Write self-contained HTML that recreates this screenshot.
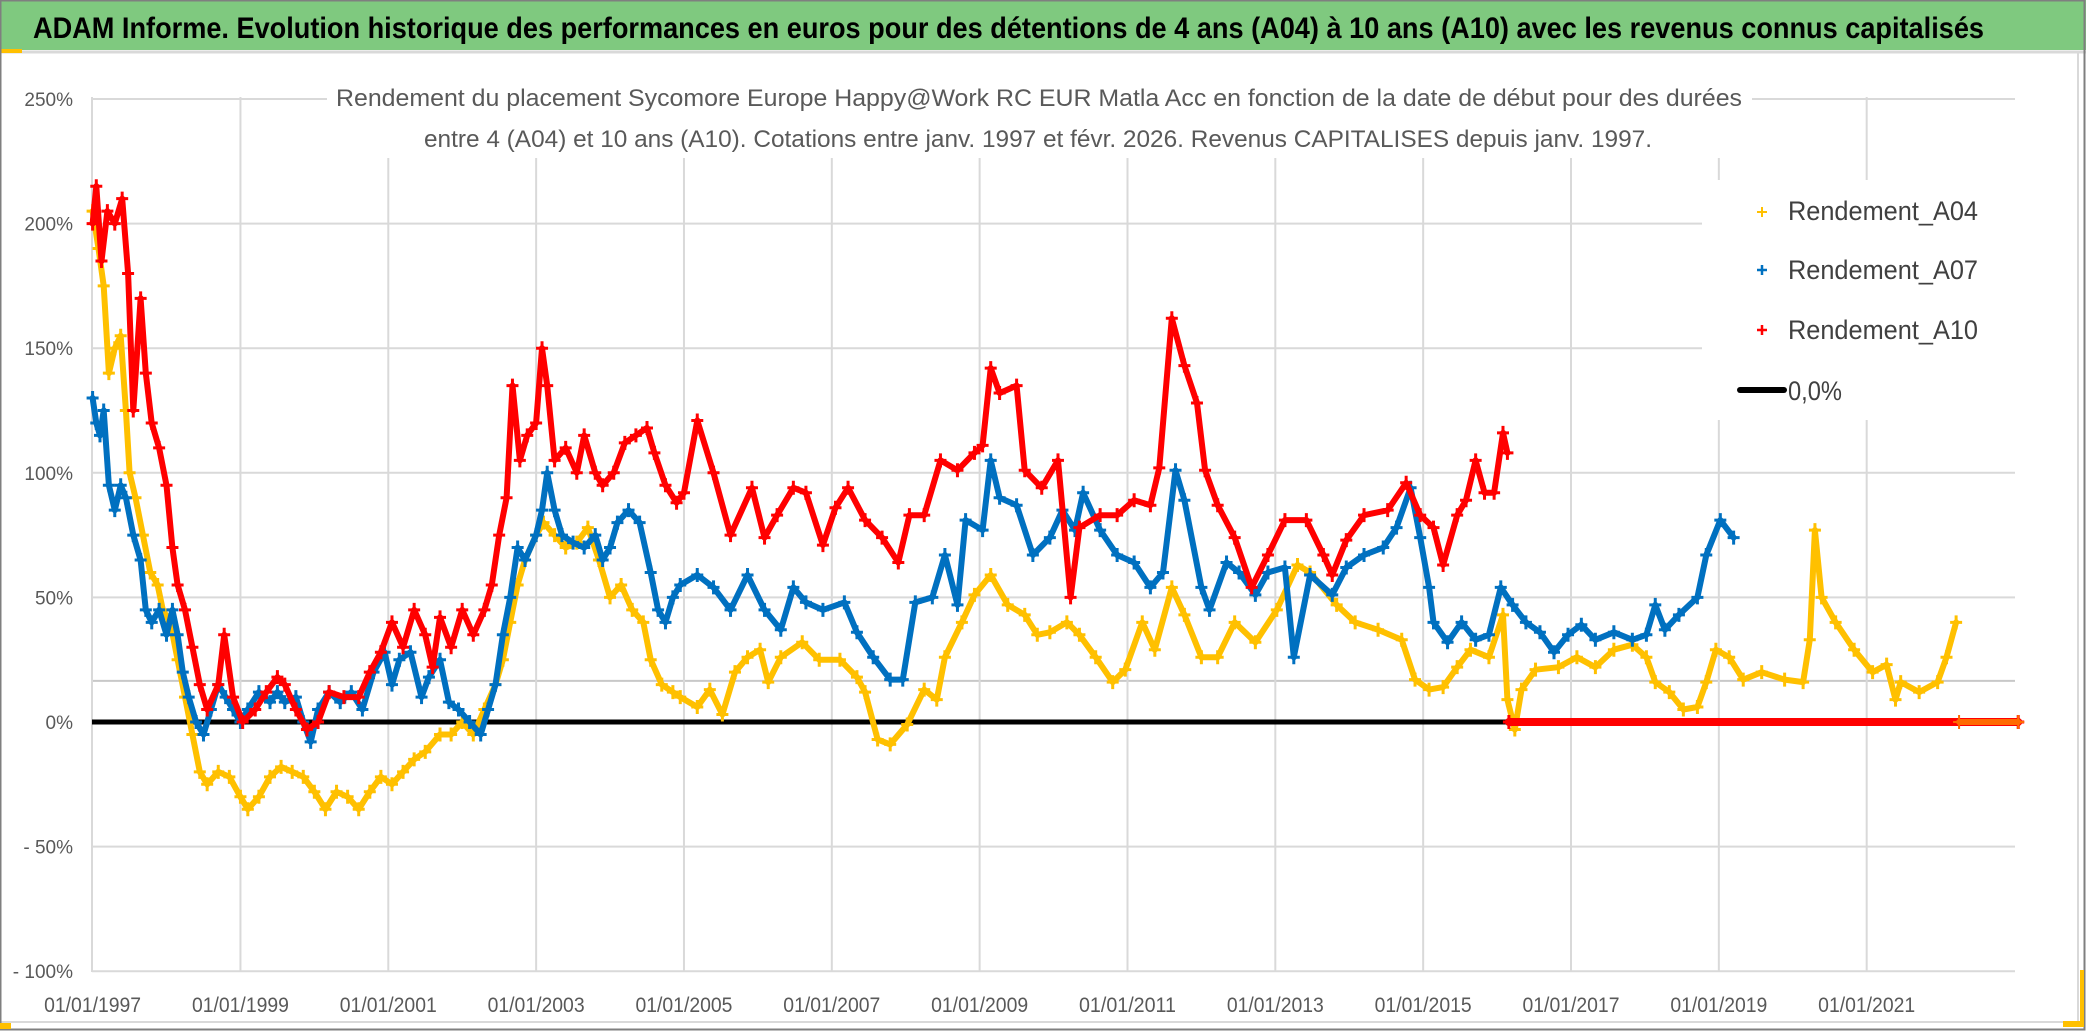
<!DOCTYPE html>
<html><head><meta charset="utf-8">
<style>
html,body{margin:0;padding:0;background:#fff;}
svg{display:block;font-family:"Liberation Sans",sans-serif;}
</style></head>
<body>
<svg id="chart" width="2086" height="1031" viewBox="0 0 2086 1031" xmlns="http://www.w3.org/2000/svg">
  <rect x="0" y="0" width="2086" height="1031" fill="#fff"/>
  <rect x="0" y="0" width="2086" height="50" fill="#7fc97f"/>
  <line x1="0" y1="52" x2="2086" y2="52" stroke="#d9d9d9" stroke-width="3"/>
  <rect x="0" y="49" width="22" height="4" fill="#ffc000"/>
  <text x="33" y="38" font-size="30" font-weight="bold" fill="#000" textLength="1951" lengthAdjust="spacingAndGlyphs">ADAM Informe. Evolution historique des performances en euros pour des détentions de 4 ans (A04) à 10 ans (A10) avec les revenus connus capitalisés</text>
  <line x1="2078" y1="53" x2="2078" y2="1022" stroke="#d9d9d9" stroke-width="2"/>
  <line x1="0" y1="1022" x2="2078" y2="1022" stroke="#d9d9d9" stroke-width="2"/>
  <rect x="0.5" y="0.5" width="2084" height="1029" fill="none" stroke="#7f7f7f" stroke-width="2"/>
  <rect x="2063" y="1021" width="18" height="6" fill="#ffc000"/>
  <rect x="2080" y="970" width="4" height="57" fill="#ffc000"/>
  <rect x="0" y="1023" width="11" height="6" fill="#ffc000"/>
  <g id="grid"></g>
  <g id="axes"></g>
  <g id="series"></g>
  <rect x="327" y="70" width="1425" height="88" fill="#fff"/>
  <text x="336" y="106" font-size="24" fill="#595959" textLength="1406" lengthAdjust="spacingAndGlyphs">Rendement du placement Sycomore Europe Happy@Work RC EUR Matla Acc en fonction de la date de début pour des durées</text>
  <text x="424" y="147" font-size="24" fill="#595959" textLength="1228" lengthAdjust="spacingAndGlyphs">entre 4 (A04) et 10 ans (A10). Cotations entre janv. 1997 et févr. 2026. Revenus CAPITALISES depuis janv. 1997.</text>
  <g>
    <rect x="1702" y="180" width="314" height="240" fill="#fff"/>
    <g>
      <path d="M1757 212h10M1762 207v10" stroke="#ffc000" stroke-width="2"/>
      <text x="1788" y="220" font-size="27" fill="#404040" textLength="190" lengthAdjust="spacingAndGlyphs">Rendement_A04</text>
    </g>
    <g>
      <path d="M1757 270h10M1762 265v10" stroke="#0070c0" stroke-width="2.5"/>
      <text x="1788" y="279" font-size="27" fill="#404040" textLength="190" lengthAdjust="spacingAndGlyphs">Rendement_A07</text>
    </g>
    <g>
      <path d="M1757 330h10M1762 325v10" stroke="#ff0000" stroke-width="2.5"/>
      <text x="1788" y="339" font-size="27" fill="#404040" textLength="190" lengthAdjust="spacingAndGlyphs">Rendement_A10</text>
    </g>
    <g>
      <line x1="1740" y1="390" x2="1784" y2="390" stroke="#000" stroke-width="6" stroke-linecap="round"/>
      <text x="1788" y="400" font-size="27" fill="#404040" textLength="54" lengthAdjust="spacingAndGlyphs">0,0%</text>
    </g>
  </g>
</svg>
<script>
const yTickValues = [250, 200, 150, 100, 50, 0, -50, -100];
const yTickLabels = ["250%", "200%", "150%", "100%", "50%", "0%", "- 50%", "- 100%"];
const xTickYears = [1997, 1999, 2001, 2003, 2005, 2007, 2009, 2011, 2013, 2015, 2017, 2019, 2021];
const xTickLabels = ["01/01/1997","01/01/1999","01/01/2001","01/01/2003","01/01/2005","01/01/2007","01/01/2009","01/01/2011","01/01/2013","01/01/2015","01/01/2017","01/01/2019","01/01/2021"];
const refLineValue = 16.5;

const a04Dates = [1997.0,1997.08,1997.15,1997.22,1997.3,1997.38,1997.45,1997.5,1997.58,1997.68,1997.78,1997.88,1997.95,1998.05,1998.15,1998.25,1998.35,1998.45,1998.55,1998.7,1998.85,1999.0,1999.1,1999.25,1999.4,1999.55,1999.7,1999.85,2000.0,2000.15,2000.3,2000.45,2000.6,2000.75,2000.9,2001.05,2001.2,2001.35,2001.5,2001.7,2001.85,2002.0,2002.15,2002.3,2002.45,2002.55,2002.65,2002.75,2002.85,2003.0,2003.1,2003.25,2003.4,2003.55,2003.7,2003.85,2004.0,2004.15,2004.3,2004.45,2004.55,2004.7,2004.85,2004.95,2005.18,2005.35,2005.52,2005.69,2005.86,2006.03,2006.14,2006.31,2006.6,2006.83,2007.11,2007.34,2007.45,2007.62,2007.79,2008.02,2008.25,2008.42,2008.53,2008.76,2008.93,2009.15,2009.38,2009.61,2009.78,2009.95,2010.18,2010.35,2010.57,2010.8,2010.97,2011.2,2011.37,2011.6,2011.77,2012.0,2012.22,2012.45,2012.73,2013.02,2013.3,2013.47,2013.83,2014.08,2014.39,2014.71,2014.89,2015.08,2015.27,2015.46,2015.64,2015.89,2016.08,2016.14,2016.24,2016.33,2016.52,2016.83,2017.08,2017.33,2017.58,2017.83,2018.02,2018.14,2018.33,2018.52,2018.71,2018.83,2018.96,2019.14,2019.33,2019.58,2019.89,2020.14,2020.23,2020.3,2020.39,2020.58,2020.83,2021.08,2021.27,2021.39,2021.46,2021.71,2021.96,2022.08,2022.21];
const a04Values = [205,190,175,140,150,155,125,100,90,75,60,55,45,40,25,10,-5,-20,-25,-20,-22,-30,-35,-30,-22,-18,-20,-22,-28,-35,-28,-30,-35,-28,-22,-25,-20,-15,-12,-5,-5,0,-5,5,15,25,40,55,65,75,80,75,70,72,78,65,50,55,45,40,25,15,12,10,6,13,3,20,26,29,16,26,32,25,25,18,12,-7,-9,-1,13,9,26,40,51,59,47,43,35,36,40,35,26,16,21,40,29,54,43,26,26,40,32,45,63,60,47,40,37,33,17,13,14,22,29,26,43,9,-3,13,21,22,26,22,29,31,26,16,12,5,6,16,29,26,17,20,17,16,33,77,50,40,29,20,23,9,16,12,16,26,40];
const a04ZeroDates = [2022.25, 2023.05];
const a04ZeroValues = [0, 0];

const a07Dates = [1997.0,1997.05,1997.1,1997.15,1997.22,1997.3,1997.38,1997.45,1997.55,1997.65,1997.72,1997.8,1997.9,1998.0,1998.08,1998.15,1998.22,1998.3,1998.4,1998.5,1998.6,1998.7,1998.8,1998.9,1999.0,1999.1,1999.25,1999.4,1999.5,1999.6,1999.75,1999.85,1999.95,2000.05,2000.2,2000.35,2000.5,2000.65,2000.8,2000.95,2001.05,2001.15,2001.3,2001.45,2001.55,2001.7,2001.82,2001.95,2002.1,2002.25,2002.35,2002.45,2002.55,2002.65,2002.75,2002.85,2003.0,2003.08,2003.15,2003.25,2003.35,2003.5,2003.65,2003.8,2003.9,2004.0,2004.1,2004.25,2004.4,2004.55,2004.65,2004.75,2004.85,2004.95,2005.18,2005.4,2005.63,2005.86,2006.09,2006.31,2006.48,2006.65,2006.88,2007.17,2007.34,2007.56,2007.79,2007.96,2008.13,2008.36,2008.53,2008.7,2008.81,2009.04,2009.15,2009.27,2009.5,2009.72,2009.95,2010.12,2010.29,2010.4,2010.63,2010.86,2011.09,2011.31,2011.48,2011.65,2011.77,2012.0,2012.11,2012.34,2012.51,2012.73,2012.9,2013.13,2013.25,2013.47,2013.77,2013.96,2014.2,2014.46,2014.64,2014.83,2014.96,2015.08,2015.14,2015.33,2015.52,2015.71,2015.89,2016.05,2016.21,2016.39,2016.58,2016.77,2016.96,2017.14,2017.33,2017.58,2017.83,2018.02,2018.14,2018.27,2018.46,2018.71,2018.83,2019.02,2019.2];
const a07Values = [130,120,115,125,95,85,95,90,75,65,45,40,45,35,45,35,20,10,0,-5,5,15,10,5,0,5,12,8,12,8,10,0,-8,5,12,8,12,5,20,28,15,25,28,10,18,25,8,5,0,-5,5,15,35,50,70,65,75,85,100,85,75,72,70,75,65,70,80,85,80,60,45,40,50,55,59,54,45,59,45,37,54,48,45,48,36,26,17,17,48,50,67,47,81,77,105,90,87,67,74,85,77,92,77,67,64,54,60,101,89,54,45,64,60,51,60,62,26,59,51,62,67,70,78,94,74,54,40,32,40,33,35,54,47,40,36,28,35,39,33,36,33,35,47,37,43,50,67,81,74];

const a10Dates = [1997.0,1997.05,1997.12,1997.2,1997.3,1997.4,1997.48,1997.55,1997.65,1997.72,1997.8,1997.9,1998.0,1998.08,1998.15,1998.25,1998.35,1998.45,1998.55,1998.7,1998.78,1998.9,1999.03,1999.2,1999.35,1999.5,1999.6,1999.75,1999.9,2000.05,2000.2,2000.4,2000.6,2000.75,2000.9,2001.05,2001.2,2001.35,2001.5,2001.6,2001.7,2001.85,2002.0,2002.15,2002.3,2002.4,2002.5,2002.6,2002.68,2002.78,2002.88,2003.0,2003.08,2003.15,2003.25,2003.4,2003.55,2003.65,2003.8,2003.9,2004.05,2004.2,2004.35,2004.5,2004.6,2004.75,2004.9,2005.0,2005.18,2005.4,2005.63,2005.92,2006.09,2006.26,2006.48,2006.65,2006.88,2007.05,2007.22,2007.45,2007.68,2007.9,2008.05,2008.25,2008.47,2008.7,2008.93,2009.04,2009.15,2009.27,2009.5,2009.61,2009.84,2010.06,2010.23,2010.35,2010.63,2010.86,2011.09,2011.31,2011.43,2011.6,2011.77,2011.94,2012.05,2012.22,2012.45,2012.68,2012.9,2013.13,2013.42,2013.65,2013.77,2013.96,2014.2,2014.52,2014.77,2014.96,2015.14,2015.27,2015.46,2015.58,2015.71,2015.83,2015.96,2016.08,2016.14];
const a10Values = [200,215,185,205,200,210,180,125,170,140,120,110,95,70,55,45,30,15,5,15,35,10,0,5,12,18,15,5,-3,0,12,10,10,20,28,40,30,45,35,22,42,30,45,35,45,55,75,90,135,105,115,120,150,135,105,110,100,115,100,95,100,112,115,118,108,95,88,92,121,100,75,94,74,83,94,92,71,86,94,81,74,64,83,83,105,101,108,111,142,132,135,101,94,105,50,78,83,83,89,87,102,162,143,128,101,87,74,54,67,81,81,67,59,73,83,85,96,83,78,63,83,89,105,92,92,116,108];
const a10ZeroDates = [2016.16, 2023.05];
const a10ZeroValues = [0, 0];

const X0 = 92.6, PX_PER_YEAR = 73.92, Y0 = 722, PX_PER_PCT = 124.6/50;
const PLOT_L = 92, PLOT_R = 2015, PLOT_T = 97, PLOT_B = 972;
function xScale(yr){ return X0 + (yr - 1997) * PX_PER_YEAR; }
function yScale(v){ return Y0 - v * PX_PER_PCT; }

const NS = "http://www.w3.org/2000/svg";
function mk(tag, attrs, parent){
  const el = document.createElementNS(NS, tag);
  for (const k in attrs) el.setAttribute(k, attrs[k]);
  parent.appendChild(el);
  return el;
}
const grid = document.getElementById('grid');
const axes = document.getElementById('axes');
const series = document.getElementById('series');

yTickValues.forEach((v, i) => {
  const y = yScale(v);
  const ln = mk('line', {x1: PLOT_L, y1: y, x2: PLOT_R, y2: y, stroke: '#d9d9d9', 'stroke-width': 2}, grid);
  
  
  const t = mk('text', {x: 73, y: y + 7, 'font-size': 19, fill: '#595959', 'text-anchor': 'end'}, axes);
  t.textContent = yTickLabels[i];
  
  
});
const refY = yScale(refLineValue);
const refLn = mk('line', {x1: PLOT_L, y1: refY, x2: PLOT_R, y2: refY, stroke: '#c8c8c8', 'stroke-width': 2}, grid);



xTickYears.forEach((yr, i) => {
  const x = xScale(yr);
  if (i > 0) {
    const ln = mk('line', {x1: x, y1: PLOT_T, x2: x, y2: PLOT_B, stroke: '#d9d9d9', 'stroke-width': 2}, grid);
    
    
  }
  const t = mk('text', {x: x, y: 1012, 'font-size': 21, fill: '#595959', 'text-anchor': 'middle', textLength: 97, lengthAdjust: 'spacingAndGlyphs'}, axes);
  t.textContent = xTickLabels[i];
  
  
});
const yAxis = mk('line', {x1: PLOT_L, y1: PLOT_T, x2: PLOT_L, y2: PLOT_B, stroke: '#d9d9d9', 'stroke-width': 2}, axes);



const zeroLine = mk('line', {x1: PLOT_L, y1: yScale(0), x2: PLOT_R, y2: yScale(0), stroke: '#000', 'stroke-width': 5}, series);



function drawSeries(dates, values, color, name, lineW, markW){
  const g = mk('g', {}, series);
  
  
  const pts = dates.map((d, i) => xScale(d).toFixed(1) + ',' + yScale(values[i]).toFixed(1)).join(' ');
  const pl = mk('polyline', {points: pts, fill: 'none', stroke: color, 'stroke-width': lineW, 'stroke-linejoin': 'round', 'stroke-linecap': 'round'}, g);
  
  
  dates.forEach((d, i) => {
    const x = xScale(d), y = yScale(values[i]);
    const p = mk('path', {d: `M${x-6} ${y}h12M${x} ${y-7}v14`, stroke: color, 'stroke-width': markW}, g);
    
    
  });
}
drawSeries(a04Dates, a04Values, '#ffc000', 'series-a04', 6, 3);
drawSeries(a07Dates, a07Values, '#0070c0', 'series-a07', 6, 3);
drawSeries(a10Dates, a10Values, '#ff0000', 'series-a10', 6, 3);
drawSeries(a10ZeroDates, a10ZeroValues, '#ff0000', 'series-a10-zero', 8, 3);
drawSeries(a04ZeroDates, a04ZeroValues, '#ff6a00', 'series-a04-zero', 6, 2);
</script>
</body></html>
